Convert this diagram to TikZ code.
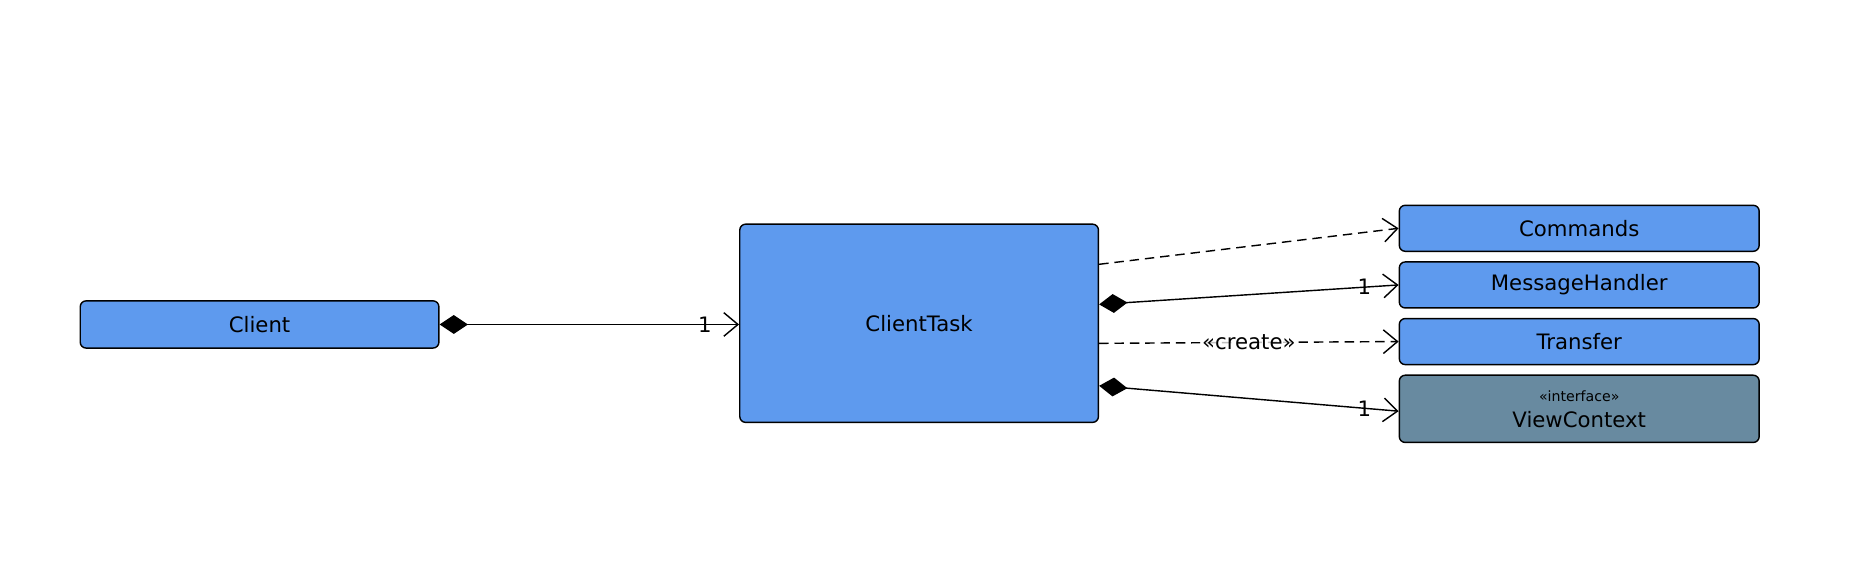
\documentclass[tikz,border=0pt]{standalone}
\usepackage{fontspec}
\setmainfont{DejaVu Sans}
\usetikzlibrary{arrows.meta}
\definecolor{boxblue}{RGB}{94,154,238}
\definecolor{ifslate}{RGB}{104,138,160}
\begin{document}
\begin{tikzpicture}[x=0.5pt,y=-0.5pt,
  cls/.style={draw=black, line width=0.6pt, rounded corners=2.5pt, fill=boxblue,
    minimum width=152pt, inner sep=0pt, align=center, font=\fontsize{9}{10}\selectfont},
  iface/.style={cls, fill=ifslate},
  conn/.style={line width=0.6pt, -{Straight Barb[length=6pt,width=10pt,line width=0.6pt]}},
  compo/.style={conn, {Diamond[length=12pt,width=8pt]}-{Straight Barb[length=6pt,width=10pt,line width=0.6pt]}},
  dep/.style={conn, dash pattern=on 4pt off 2.5pt},
  lab/.style={font=\fontsize{9}{10}\selectfont, inner sep=1pt},
  stereo/.style={lab, fill=white, fill opacity=0.75, text opacity=1}
]
\useasboundingbox (0,0) rectangle (1568,487);

\node[cls, minimum height=20pt] (client) at (220,275) {Client};
\node[cls, minimum height=84pt] (ct) at (779,274) {ClientTask};
\node[cls, minimum width=152.5pt, minimum height=19.5pt] (cmd) at (1338.5,193.5) {Commands};
\node[cls, minimum width=152.5pt, minimum height=19.5pt] (mh) at (1338.5,241.5) {MessageHandler};
\node[cls, minimum width=152.5pt, minimum height=19.5pt] (tr) at (1338.5,289.5) {Transfer};
\node[iface, minimum width=152.5pt, minimum height=28.5pt] (vc) at (1338.5,346.5)
  {{\fontsize{6}{7}\selectfont «interface»}\\[1pt]ViewContext};

\draw[compo] (client.east) -- node[lab, pos=0.886] {1} (client.east -| ct.west);
\draw[dep] ([yshift=25pt]ct.east) -- (cmd.west);
\draw[compo] ([yshift=8pt]ct.east) -- node[lab, pos=0.886] {1} (mh.west);
\draw[dep] ([yshift=-8.5pt]ct.east) -- node[stereo, pos=0.5] {«create»} (tr.west);
\draw[compo] ([yshift=-26.5pt]ct.east) -- node[lab, pos=0.886] {1} ([yshift=-1pt]vc.west);
\end{tikzpicture}
\end{document}
